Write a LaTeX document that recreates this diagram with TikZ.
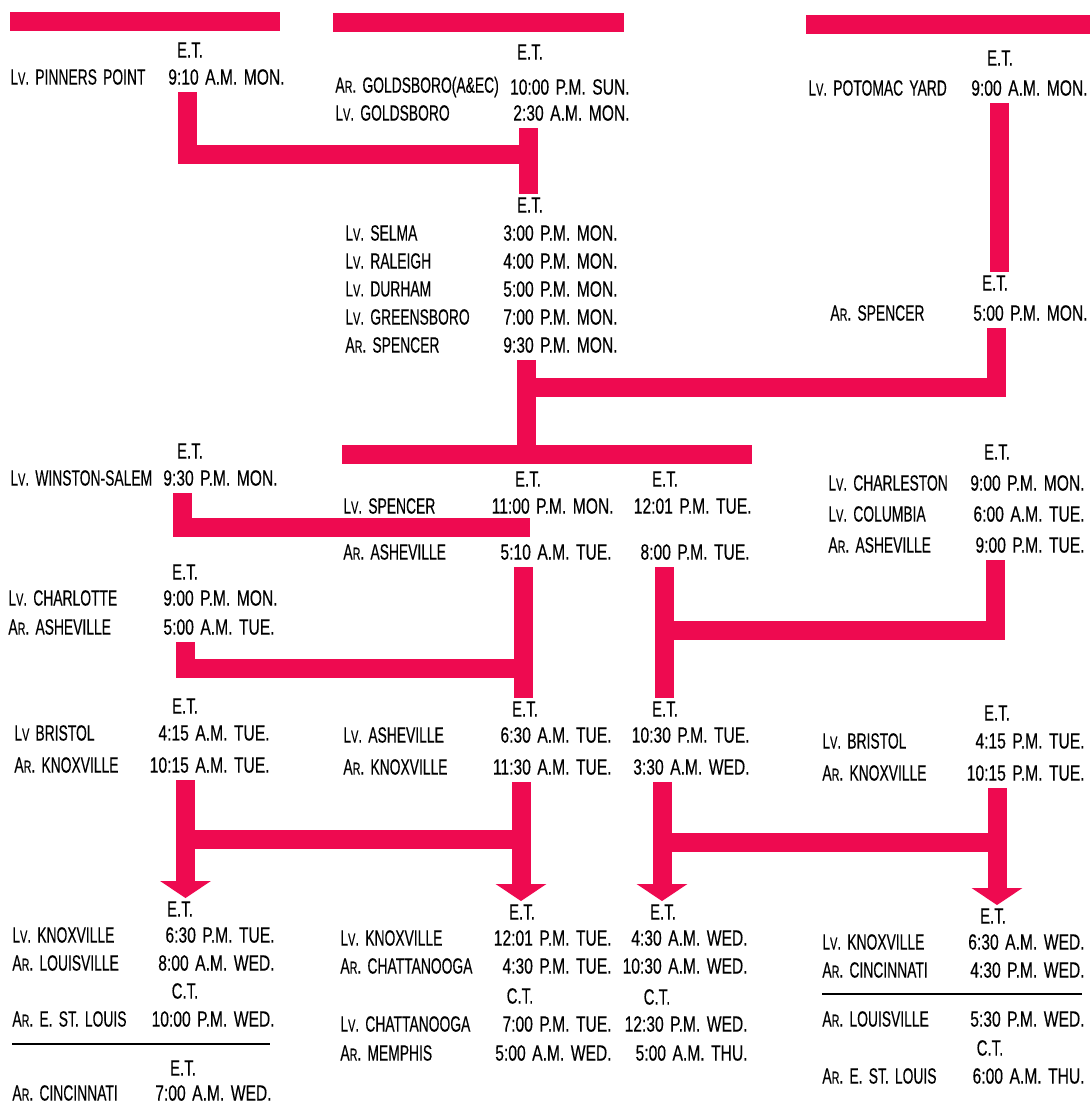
\documentclass[tikz,border=0pt]{standalone}
\usepackage{fontspec}
\setmainfont{Liberation Sans}[FakeStretch=0.68,WordSpace=1.7,FakeBold=0.3]
\newfontfamily\stnfont{Liberation Sans}[FakeStretch=0.63,WordSpace=1.6,FakeBold=0.3]
\newfontfamily\tmfont{Liberation Sans}[FakeStretch=0.71,WordSpace=1.5,FakeBold=0.3]
\usetikzlibrary{arrows.meta}
\definecolor{Crimson}{HTML}{EE0A50}
\newcommand{\smc}[1]{{\fontsize{8.6}{9}\selectfont #1}}
\newcommand{\Ar}{A\smc{R}.}
\newcommand{\Lv}{L\smc{V}.}
\tikzset{
  redbar/.style={draw=Crimson,line width=9.5pt,line join=miter,line cap=butt},
  downtip/.style={-{Triangle[width=25pt,length=8.5pt]}},
  zone/.style={inner sep=1.5pt},
  stn/.style={anchor=west,inner sep=0pt,font=\fontsize{11}{13}\selectfont\stnfont},
  tm/.style={anchor=east,inner xsep=0pt,inner ysep=3.5pt,font=\fontsize{11}{13}\selectfont\tmfont},
  blackrule/.style={draw=black,line width=1.1pt}
}
\begin{document}
\begin{tikzpicture}[x=0.5pt,y=-0.5pt,font=\fontsize{11}{13}\selectfont]
  \useasboundingbox (0,0) rectangle (1090,1104);
  % top row
  \node[zone] (ppZ) at (190,50) {E.T.};
  \node[stn] (pp) at (10,77) {\Lv\ PINNERS POINT};
  \node[tm] (ppT) at (285,77) {9:10 A.M. MON.};
  \node[zone] (gbZ) at (530,52) {E.T.};
  \node[stn] (gba) at (335,87) {\Ar\ GOLDSBORO(A\&EC)};
  \node[tm] (gbaT) at (630,87) {10:00 P.M. SUN.};
  \node[stn] (gbl) at (335,113) {\Lv\ GOLDSBORO};
  \node[tm] (gblT) at (630,113) {2:30 A.M. MON.};
  \node[zone] (pyZ) at (1000,58) {E.T.};
  \node[stn] (py) at (808,88) {\Lv\ POTOMAC YARD};
  \node[tm] (pyT) at (1088,88) {9:00 A.M. MON.};
  % selma -- spencer
  \node[zone] (seZ) at (530,205) {E.T.};
  \node[stn] (se) at (345,233) {\Lv\ SELMA};       \node[tm] (seT) at (618,233) {3:00 P.M. MON.};
  \node[stn] (ra) at (345,261) {\Lv\ RALEIGH};     \node[tm] (raT) at (618,261) {4:00 P.M. MON.};
  \node[stn] (du) at (345,289) {\Lv\ DURHAM};      \node[tm] (duT) at (618,289) {5:00 P.M. MON.};
  \node[stn] (gr) at (345,317) {\Lv\ GREENSBORO};  \node[tm] (grT) at (618,317) {7:00 P.M. MON.};
  \node[stn] (spa) at (345,345) {\Ar\ SPENCER};    \node[tm] (spaT) at (618,345) {9:30 P.M. MON.};
  \node[zone] (spZ) at (995,283) {E.T.};
  \node[stn] (spb) at (830,313) {\Ar\ SPENCER};    \node[tm] (spbT) at (1088,313) {5:00 P.M. MON.};
  % spencer -- asheville
  \node[zone] (wsZ) at (190,451) {E.T.};
  \node[stn] (ws) at (10,478) {\Lv\ WINSTON-SALEM}; \node[tm] (wsT) at (278,478) {9:30 P.M. MON.};
  \node[zone] (slZ) at (528,479) {E.T.};
  \node[zone] (slZb) at (665,479) {E.T.};
  \node[stn] (sl) at (343,506) {\Lv\ SPENCER};
  \node[tm] (slT) at (614,506) {11:00 P.M. MON.};
  \node[tm] (slTb) at (752,506) {12:01 P.M. TUE.};
  \node[stn] (av) at (343,552) {\Ar\ ASHEVILLE};
  \node[tm] (avT) at (612,552) {5:10 A.M. TUE.};
  \node[tm] (avTb) at (750,552) {8:00 P.M. TUE.};
  \node[zone] (csZ) at (997,452) {E.T.};
  \node[stn] (cs) at (828,483) {\Lv\ CHARLESTON};  \node[tm] (csT) at (1085,483) {9:00 P.M. MON.};
  \node[stn] (co) at (828,514) {\Lv\ COLUMBIA};    \node[tm] (coT) at (1085,514) {6:00 A.M. TUE.};
  \node[stn] (avc) at (828,545) {\Ar\ ASHEVILLE};  \node[tm] (avcT) at (1085,545) {9:00 P.M. TUE.};
  \node[zone] (ctZ) at (185,572) {E.T.};
  \node[stn] (ct) at (8,598) {\Lv\ CHARLOTTE};     \node[tm] (ctT) at (278,598) {9:00 P.M. MON.};
  \node[stn] (avl) at (8,627) {\Ar\ ASHEVILLE};    \node[tm] (avlT) at (275,627) {5:00 A.M. TUE.};
  % to knoxville
  \node[zone] (brZ) at (185,706) {E.T.};
  \node[stn] (br) at (14,733) {L\smc{V}\ BRISTOL}; \node[tm] (brT) at (270,733) {4:15 A.M. TUE.};
  \node[stn] (kx) at (14,765) {\Ar\ KNOXVILLE};    \node[tm] (kxT) at (270,765) {10:15 A.M. TUE.};
  \node[zone] (alZ) at (525,709) {E.T.};
  \node[zone] (alZb) at (665,709) {E.T.};
  \node[stn] (al) at (343,735) {\Lv\ ASHEVILLE};
  \node[tm] (alT) at (612,735) {6:30 A.M. TUE.};
  \node[tm] (alTb) at (750,735) {10:30 P.M. TUE.};
  \node[stn] (ak) at (343,767) {\Ar\ KNOXVILLE};
  \node[tm] (akT) at (612,767) {11:30 A.M. TUE.};
  \node[tm] (akTb) at (750,767) {3:30 A.M. WED.};
  \node[zone] (bbZ) at (997,713) {E.T.};
  \node[stn] (bb) at (822,741) {\Lv\ BRISTOL};     \node[tm] (bbT) at (1085,741) {4:15 P.M. TUE.};
  \node[stn] (bk) at (822,773) {\Ar\ KNOXVILLE};   \node[tm] (bkT) at (1085,773) {10:15 P.M. TUE.};
  % beyond knoxville
  \node[zone] (klZ) at (180,909) {E.T.};
  \node[stn] (kl) at (12,935) {\Lv\ KNOXVILLE};    \node[tm] (klT) at (275,935) {6:30 P.M. TUE.};
  \node[stn] (lo) at (12,963) {\Ar\ LOUISVILLE};   \node[tm] (loT) at (275,963) {8:00 A.M. WED.};
  \node[zone] (esC) at (185,991) {C.T.};
  \node[stn] (es) at (12,1019) {\Ar\ E. ST. LOUIS}; \node[tm] (esT) at (275,1019) {10:00 P.M. WED.};
  \draw[blackrule] (12,1044) -- (270,1044);
  \node[zone] (ciZ) at (183,1068) {E.T.};
  \node[stn] (ci) at (12,1093) {\Ar\ CINCINNATI};  \node[tm] (ciT) at (272,1093) {7:00 A.M. WED.};
  \node[zone] (kcZ) at (522,912) {E.T.};
  \node[zone] (kcZb) at (663,912) {E.T.};
  \node[stn] (kc) at (340,938) {\Lv\ KNOXVILLE};
  \node[tm] (kcT) at (612,938) {12:01 P.M. TUE.};
  \node[tm] (kcTb) at (748,938) {4:30 A.M. WED.};
  \node[stn] (ch) at (340,966) {\Ar\ CHATTANOOGA};
  \node[tm] (chT) at (612,966) {4:30 P.M. TUE.};
  \node[tm] (chTb) at (748,966) {10:30 A.M. WED.};
  \node[zone] (cmC) at (520,996) {C.T.};
  \node[zone] (cmCb) at (657,997) {C.T.};
  \node[stn] (cl) at (340,1024) {\Lv\ CHATTANOOGA};
  \node[tm] (clT) at (612,1024) {7:00 P.M. TUE.};
  \node[tm] (clTb) at (748,1024) {12:30 P.M. WED.};
  \node[stn] (me) at (340,1053) {\Ar\ MEMPHIS};
  \node[tm] (meT) at (612,1053) {5:00 A.M. WED.};
  \node[tm] (meTb) at (748,1053) {5:00 A.M. THU.};
  \node[zone] (kiZ) at (993,916) {E.T.};
  \node[stn] (ki) at (822,942) {\Lv\ KNOXVILLE};   \node[tm] (kiT) at (1085,942) {6:30 A.M. WED.};
  \node[stn] (cn) at (822,970) {\Ar\ CINCINNATI};  \node[tm] (cnT) at (1085,970) {4:30 P.M. WED.};
  \draw[blackrule] (822,994) -- (1082,994);
  \node[stn] (lv) at (822,1019) {\Ar\ LOUISVILLE}; \node[tm] (lvT) at (1085,1019) {5:30 P.M. WED.};
  \node[zone] (elC) at (990,1048) {C.T.};
  \node[stn] (el) at (822,1076) {\Ar\ E. ST. LOUIS}; \node[tm] (elT) at (1085,1076) {6:00 A.M. THU.};
  % red bars
  \draw[redbar] (10,21) -- (280,21);
  \draw[redbar] (333,22) -- (624,22);
  \draw[redbar] (806,24) -- (1090,24);
  \draw[redbar] (187.5,0 |- ppT.south) |- (528.5,154);
  \draw[redbar] (528.5,0 |- gblT.south) -- (528.5,0 |- seZ.north);
  \draw[redbar] (999,0 |- pyT.south) -- (999,0 |- spZ.north);
  \draw[redbar] (996,0 |- spbT.south) |- (526,387);
  \draw[redbar] (526,0 |- spaT.south) -- (526,454);
  \draw[redbar] (342,454) -- (752,454);
  \draw[redbar] (182,0 |- wsT.south) |- (530,527);
  \draw[redbar] (523.5,0 |- avT.south) -- (523.5,0 |- alZ.north);
  \draw[redbar] (185.5,0 |- avlT.south) |- (523.5,668);
  \draw[redbar] (995,0 |- avcT.south) |- (664,630);
  \draw[redbar] (664,0 |- avTb.south) -- (664,0 |- alZb.north);
  \draw[redbar,downtip] (185.5,0 |- kxT.south) -- (185.5,0 |- klZ.north);
  \draw[redbar] (185.5,839) -- (521,839);
  \draw[redbar,downtip] (521,0 |- akT.south) -- (521,0 |- kcZ.north);
  \draw[redbar,downtip] (662,0 |- akTb.south) -- (662,0 |- kcZb.north);
  \draw[redbar] (662,842) -- (997,842);
  \draw[redbar,downtip] (997,0 |- bkT.south) -- (997,0 |- kiZ.north);
\end{tikzpicture}
\end{document}
